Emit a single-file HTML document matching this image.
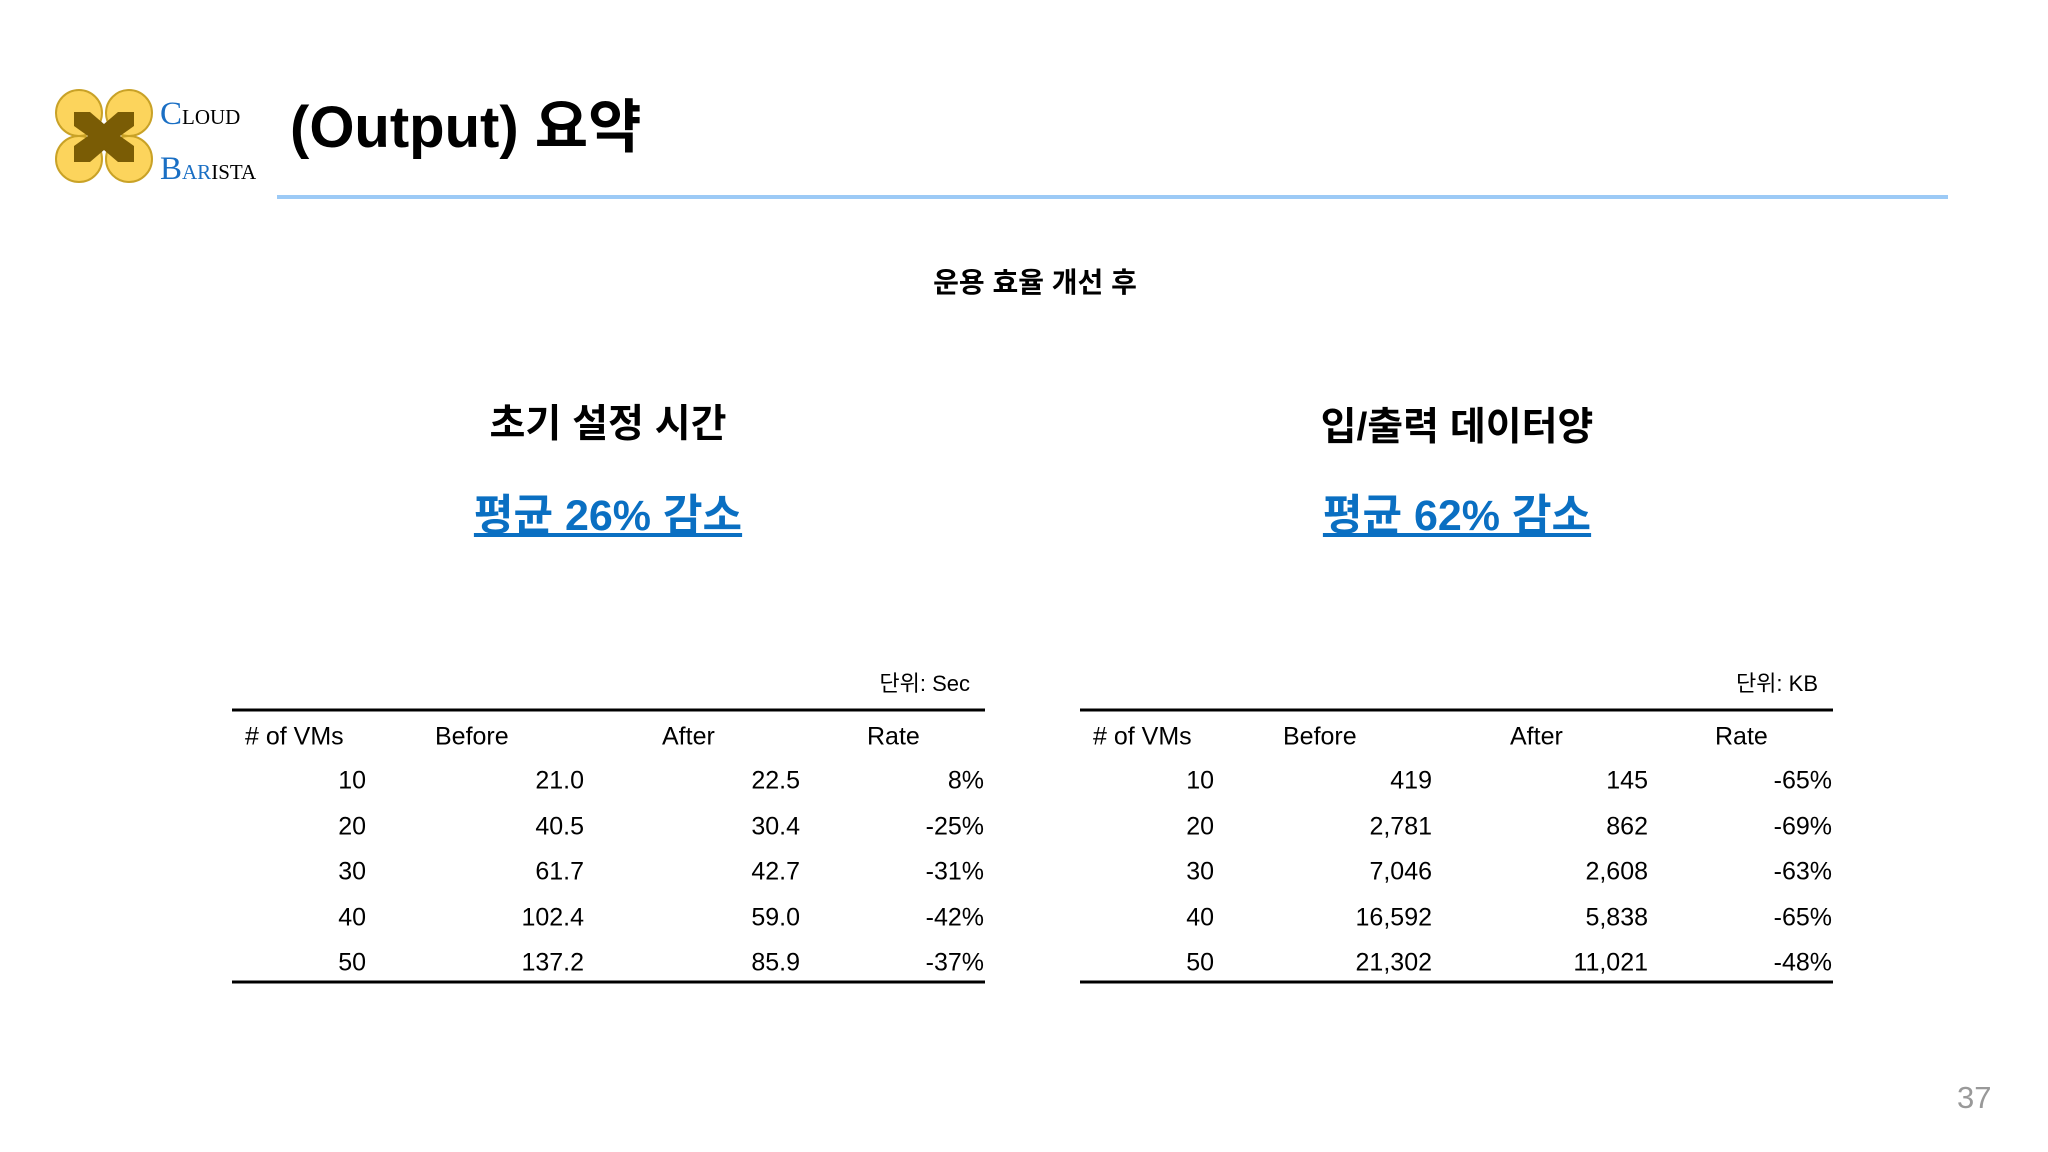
<!DOCTYPE html>
<html><head><meta charset="utf-8">
<style>
body{margin:0;width:2048px;height:1152px;background:#fff;position:relative;overflow:hidden;font-family:"Liberation Sans","Noto Sans CJK KR",sans-serif;color:#000}
.abs{position:absolute;white-space:nowrap}
.c{transform:translate(-50%,-50%)}
.tbl{position:absolute;top:0;width:0;height:0}
.cell{position:absolute;font-size:25px;transform:translateY(-50%);white-space:nowrap}
.cell.r{transform:translate(-100%,-50%)}
</style></head><body>
<svg class="abs" style="left:50px;top:82px" width="120" height="110" viewBox="0 0 120 110">
 <g fill="#fcd45c" stroke="#c9a227" stroke-width="2">
  <ellipse cx="29" cy="31" rx="23" ry="23"/><ellipse cx="79" cy="31" rx="23" ry="23"/>
  <ellipse cx="29" cy="77" rx="23" ry="23"/><ellipse cx="79" cy="77" rx="23" ry="23"/>
 </g>
 <path d="M24 30 L40 30 L54 42 L68 30 L84 30 L84 44 L70 54 L84 64 L84 80 L68 80 L54 68 L40 80 L24 80 L24 64 L38 54 L24 44 Z" fill="#7a5c05"/>
</svg>
<div class="abs" style="left:160px;top:88px;font-family:'Liberation Serif',serif;line-height:52px;font-size:21px">
 <div><span style="color:#1a6fc4;font-size:33px">C</span>LOUD</div>
 <div><span style="color:#1a6fc4;font-size:33px">B</span><span style="color:#1a6fc4">AR</span>ISTA</div>
</div>
<div class="abs" style="left:290px;top:90px;font-size:58px;font-weight:bold;line-height:76px">(Output) 요약</div>
<div class="abs" style="left:277px;top:195px;width:1671px;height:4px;background:#9ccaf6"></div>
<div class="abs c" style="left:1035px;top:281px;font-size:28px;font-weight:bold">운용 효율 개선 후</div>
<div class="abs c" style="left:608px;top:421px;font-size:39px;font-weight:bold">초기 설정 시간</div>
<div class="abs c" style="left:1457px;top:424px;font-size:39px;font-weight:bold">입/출력 데이터양</div>
<div class="abs c" style="left:608px;top:512px;font-size:43px;font-weight:bold;color:#0a6fc2;text-decoration:underline">평균 26% 감소</div>
<div class="abs c" style="left:1457px;top:512px;font-size:43px;font-weight:bold;color:#0a6fc2;text-decoration:underline">평균 62% 감소</div>
<div id="tables"></div>
<div class="abs" style="left:1957px;top:1080px;font-size:31px;color:#999">37</div>
<script>
const headers=["# of VMs","Before","After","Rate"];
const vms=["10","20","30","40","50"];
const timeBefore=["21.0","40.5","61.7","102.4","137.2"];
const timeAfter=["22.5","30.4","42.7","59.0","85.9"];
const timeRate=["8%","-25%","-31%","-42%","-37%"];
const ioBefore=["419","2,781","7,046","16,592","21,302"];
const ioAfter=["145","862","2,608","5,838","11,021"];
const ioRate=["-65%","-69%","-63%","-65%","-48%"];
const units=["단위: Sec","단위: KB"];
const cont=document.getElementById('tables');
function makeTable(ox,name,cols,unit){
  const t=document.createElement('div');
  
  
  t.className='tbl';
  t.style.left=ox+'px';
  cont.appendChild(t);
  function add(txt,style,nm,right){
    const d=document.createElement('div');
    
    
    d.className='cell'+(right?' r':'');d.textContent=txt;
    Object.assign(d.style,style);t.appendChild(d);return d;
  }
  add(unit,{left:'970px',top:'682px',fontSize:'22px'},'unit-label',true);
  add('',{left:'232px',top:'710px',width:'753px',height:'3px',background:'#000'},'table-top-rule');
  add('',{left:'232px',top:'982px',width:'753px',height:'3px',background:'#000'},'table-bottom-rule');
  const hx=[245,435,662,867];
  headers.forEach((h,i)=>add(h,{left:hx[i]+'px',top:'737px'},'header-'+h.replace(/[^a-z]/gi,'').toLowerCase()));
  const rx=[366,584,800,984];
  const rowY=i=>781+i*45.5;
  cols.forEach((col,ci)=>col.forEach((v,ri)=>{
    add(v,{left:rx[ci]+'px',top:rowY(ri)+'px'},'cell-r'+ri+'-c'+ci,true);
  }));
}
makeTable(0,'setup-time-table',[vms,timeBefore,timeAfter,timeRate],units[0]);
makeTable(848,'io-data-table',[vms,ioBefore,ioAfter,ioRate],units[1]);
</script>
</body></html>
